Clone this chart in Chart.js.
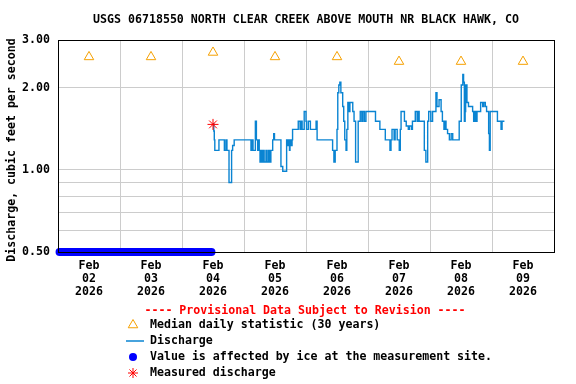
<!DOCTYPE html>
<html>
<head>
<meta charset="utf-8">
<title>USGS 06718550 discharge</title>
<script src="https://cdn.jsdelivr.net/npm/chart.js@4.4.1/dist/chart.umd.min.js"></script>
<style>
  html, body { margin: 0; padding: 0; background: #fff; }
  #wrap { width: 576px; height: 384px; }
</style>
</head>
<body>
<div id="wrap"><canvas id="chart" width="576" height="384"></canvas></div>
<script>
// ======= DATA =======
// x values are hours after Feb 02 2026 00:00
const dayHours = [0, 24, 48, 72, 96, 120, 144, 168];
const dayLabels = ["02", "03", "04", "05", "06", "07", "08", "09"];
const noonHours = [12, 36, 60, 84, 108, 132, 156];
const yTickValues = [0.5, 0.6, 0.7, 0.8, 0.9, 1, 2, 3];
const yLabelValues = [0.5, 1, 2, 3];

const medianHours = dayHours;
const medianCfs = [2.6, 2.6, 2.7, 2.6, 2.6, 2.5, 2.5, 2.5];

const iceHours = [-11.4, 47.4];
const iceCfs = [0.5, 0.5];

const measuredHours = [48];
const measuredCfs = [1.47];

const dischargeHours = [
  48.0, 48.3, 48.5, 48.7, 50.3, 52.4, 53.0, 53.4, 54.2, 55.2, 55.6, 56.2,
  62.7, 63.1, 63.5, 64.4, 64.8, 65.3, 65.5, 65.9, 66.2, 66.6, 67.0, 67.5,
  67.8, 68.5, 68.9, 69.5, 69.9, 70.4, 71.1, 71.5, 71.8, 74.3, 75.0, 76.5,
  76.8, 77.2, 77.6, 77.8, 78.2, 78.6, 78.8, 81.0, 81.7, 82.1, 82.5, 83.3,
  84.0, 84.2, 84.9, 85.7, 87.9, 88.3, 94.3, 94.8, 95.3, 96.0, 96.3, 96.7,
  97.1, 97.5, 98.2, 98.6, 99.0, 99.5, 99.8, 100.2, 100.6, 101.0, 102.1, 102.6,
  103.2, 104.2, 105.0, 105.6, 106.0, 106.6, 107.2, 110.9, 112.6, 114.7, 116.5, 116.9,
  117.3, 118.1, 118.5, 119.3, 120.1, 120.5, 120.8, 122.1, 122.8, 123.6, 124.0, 124.8,
  125.2, 126.3, 127.0, 127.4, 127.8, 129.8, 130.4, 131.1, 131.5, 132.3, 133.0, 134.3,
  134.7, 135.5, 136.3, 136.8, 137.4, 137.8, 138.2, 138.8, 139.5, 140.2, 140.8, 143.3,
  144.1, 144.7, 145.0, 145.3, 145.6, 145.8, 146.3, 146.9, 148.5, 148.9, 149.3, 149.8,
  150.2, 151.6, 152.4, 152.8, 153.4, 153.9, 154.7, 155.0, 155.3, 158.1, 159.5, 159.9,
  160.8
];
const dischargeCfs = [
  1.48, 1.39, 1.29, 1.18, 1.29, 1.18, 1.29, 1.18, 0.90, 1.18, 1.23, 1.29,
  1.18, 1.29, 1.18, 1.51, 1.29, 1.18, 1.29, 1.18, 1.07, 1.18, 1.07, 1.18,
  1.07, 1.18, 1.07, 1.18, 1.07, 1.18, 1.29, 1.36, 1.29, 1.03, 0.99, 1.29,
  1.23, 1.29, 1.18, 1.29, 1.23, 1.29, 1.41, 1.51, 1.41, 1.51, 1.41, 1.64,
  1.51, 1.41, 1.51, 1.41, 1.51, 1.29, 1.18, 1.07, 1.18, 1.41, 1.92, 2.05,
  2.10, 1.92, 1.71, 1.51, 1.29, 1.18, 1.41, 1.77, 1.64, 1.77, 1.64, 1.51,
  1.07, 1.51, 1.64, 1.51, 1.64, 1.51, 1.64, 1.51, 1.41, 1.29, 1.18, 1.29,
  1.41, 1.29, 1.41, 1.29, 1.18, 1.41, 1.64, 1.51, 1.45, 1.41, 1.45, 1.41,
  1.51, 1.64, 1.51, 1.64, 1.51, 1.18, 1.07, 1.51, 1.64, 1.51, 1.64, 1.92,
  1.71, 1.81, 1.64, 1.51, 1.41, 1.51, 1.41, 1.36, 1.29, 1.36, 1.29, 1.51,
  2.05, 2.24, 2.10, 1.51, 1.64, 2.05, 1.77, 1.71, 1.64, 1.51, 1.64, 1.51,
  1.64, 1.77, 1.71, 1.77, 1.71, 1.64, 1.36, 1.18, 1.64, 1.51, 1.41, 1.51,
  1.51
];

// ======= STYLE =======
const FONT = 'bold 11.6px "DejaVu Sans Mono"';
const GRID = "#cccccc";
const ORANGE = "#f5a000";
const LINE_BLUE = "#0a84d2";
const ICE_BLUE = "#0000ff";
const RED = "#ff0000";

function pairs(xs, ys){ return xs.map((x, i) => ({x: x, y: ys[i]})); }

// ======= PLUGINS =======
// black frame round the plot, drawn over the ice band like the original
const framePlugin = {
  id: "frame",
  afterDatasetsDraw(chart){
    const a = chart.chartArea, ctx = chart.ctx;
    ctx.save();
    ctx.strokeStyle = "#000"; ctx.lineWidth = 1;
    ctx.strokeRect(Math.round(a.left) + 0.5, Math.round(a.top) + 0.5,
      Math.round(a.right - a.left), Math.round(a.bottom - a.top));
    ctx.restore();
  }
};

function drawSymbol(ctx, kind, x, y){
  ctx.save();
  ctx.lineWidth = 1;
  if(kind === "triangle"){
    const r = 5.5;
    ctx.strokeStyle = ORANGE;
    ctx.beginPath();
    ctx.moveTo(x, y - r);
    ctx.lineTo(x + r * 0.866, y + r / 2);
    ctx.lineTo(x - r * 0.866, y + r / 2);
    ctx.closePath();
    ctx.stroke();
  } else if(kind === "line"){
    ctx.strokeStyle = LINE_BLUE;
    ctx.lineWidth = 1.5;
    ctx.beginPath(); ctx.moveTo(x - 7, y); ctx.lineTo(x + 11, y); ctx.stroke();
  } else if(kind === "dot"){
    ctx.fillStyle = ICE_BLUE;
    ctx.beginPath(); ctx.arc(x, y, 4, 0, Math.PI * 2); ctx.fill();
  } else if(kind === "star"){
    ctx.strokeStyle = RED;
    const r = 5;
    ctx.beginPath();
    for(let k = 0; k < 4; k++){
      const t = k * Math.PI / 4;
      ctx.moveTo(x - Math.cos(t) * r, y - Math.sin(t) * r);
      ctx.lineTo(x + Math.cos(t) * r, y + Math.sin(t) * r);
    }
    ctx.stroke();
  }
  ctx.restore();
}

const legendItems = [
  {kind: "triangle", text: "Median daily statistic (30 years)"},
  {kind: "line", text: "Discharge"},
  {kind: "dot", text: "Value is affected by ice at the measurement site."},
  {kind: "star", text: "Measured discharge"}
];

const textPlugin = {
  id: "texts",
  afterDraw(chart){
    const ctx = chart.ctx, a = chart.chartArea;
    const cx = (a.left + a.right) / 2;
    ctx.save();
    ctx.font = FONT;
    ctx.textBaseline = "middle";
    // title
    ctx.fillStyle = "#000";
    ctx.textAlign = "center";
    ctx.fillText("USGS 06718550 NORTH CLEAR CREEK ABOVE MOUTH NR BLACK HAWK, CO", cx, 20);
    // y axis title
    ctx.save();
    ctx.translate(12, 150);
    ctx.rotate(-Math.PI / 2);
    ctx.fillText("Discharge, cubic feet per second", 0, 0);
    ctx.restore();
    // provisional note
    ctx.fillStyle = RED;
    ctx.fillText("---- Provisional Data Subject to Revision ----", cx - 1, 311);
    // legend rows
    ctx.textAlign = "left";
    ctx.fillStyle = "#000";
    legendItems.forEach((it, i) => {
      const y = 325 + i * 16;
      drawSymbol(ctx, it.kind, 133, y);
      ctx.fillText(it.text, 150, y);
    });
    ctx.restore();
  }
};

// ======= CHART =======
Chart.defaults.font.family = '"DejaVu Sans Mono"';
Chart.defaults.font.weight = "bold";
Chart.defaults.font.size = 11.6;
Chart.defaults.color = "#000";

new Chart(document.getElementById("chart"), {
  type: "line",
  data: {
    datasets: [
      {
        label: "Measured discharge",
        data: pairs(measuredHours, measuredCfs),
        showLine: false,
        pointStyle: "star",
        pointRadius: 5.5,
        borderColor: RED,
        backgroundColor: RED,
        pointBorderWidth: 1
      },
      {
        label: "Median daily statistic (30 years)",
        data: pairs(medianHours, medianCfs),
        showLine: false,
        pointStyle: "triangle",
        pointRadius: 5.5,
        borderColor: ORANGE,
        backgroundColor: "rgba(0,0,0,0)",
        pointBorderWidth: 1
      },
      {
        label: "Discharge",
        data: pairs(dischargeHours, dischargeCfs),
        stepped: "before",
        borderColor: LINE_BLUE,
        borderWidth: 1.4,
        pointRadius: 0,
        fill: false
      },
      {
        label: "Value is affected by ice at the measurement site.",
        data: pairs(iceHours, iceCfs),
        borderColor: ICE_BLUE,
        borderWidth: 8,
        borderCapStyle: "round",
        pointRadius: 0,
        clip: false
      }
    ]
  },
  options: {
    responsive: false,
    animation: false,
    devicePixelRatio: 1,
    layout: { padding: { top: 40, right: 22, bottom: 0, left: 0 } },
    plugins: { legend: { display: false }, tooltip: { enabled: false } },
    scales: {
      x: {
        type: "linear",
        min: -12,
        max: 180,
        afterBuildTicks: s => { s.ticks = dayHours.concat(noonHours).sort((a, b) => a - b).map(v => ({value: v})); },
        afterFit: s => { s.height = 132; },
        border: { display: false },
        grid: {
          drawTicks: false,
          lineWidth: 1,
          color: c => (c.tick && noonHours.includes(c.tick.value)) ? GRID : "rgba(0,0,0,0)"
        },
        ticks: {
          autoSkip: false,
          maxRotation: 0,
          padding: 7.5,
          font: { lineHeight: "12.9px" },
          callback: v => {
            const i = dayHours.indexOf(v);
            return i >= 0 ? ["Feb", dayLabels[i], "2026"] : "";
          }
        }
      },
      y: {
        type: "logarithmic",
        min: 0.5,
        max: 3,
        afterBuildTicks: s => { s.ticks = yTickValues.map(v => ({value: v})); },
        afterFit: s => { s.width = 58; },
        border: { display: false },
        grid: {
          drawTicks: false,
          lineWidth: 1,
          color: c => (c.tick && (c.tick.value === 0.5 || c.tick.value === 3)) ? "rgba(0,0,0,0)" : GRID
        },
        ticks: {
          padding: 8,
          autoSkip: false,
          callback: v => yLabelValues.includes(v) ? v.toFixed(2) : ""
        }
      }
    }
  },
  plugins: [framePlugin, textPlugin]
});
</script>
</body>
</html>
